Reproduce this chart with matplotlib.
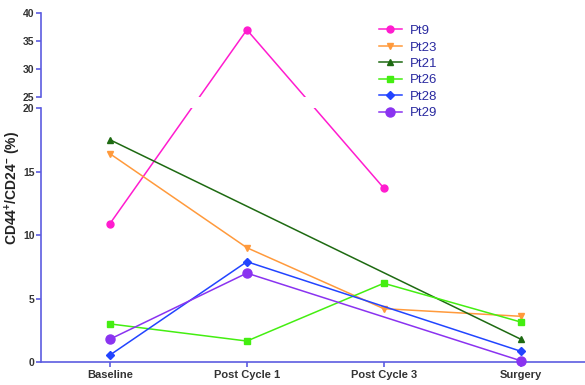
import numpy as np
import matplotlib
matplotlib.use("Agg")
import matplotlib.pyplot as plt

categories = ["Baseline", "Post Cycle 1", "Post Cycle 3", "Surgery"]
patients = ["Pt9", "Pt23", "Pt21", "Pt26", "Pt28", "Pt29"]
pt9 = [10.9, 37.0, 13.7, np.nan]
pt23 = [16.4, 9.0, 4.2, 3.6]
pt21 = [17.5, np.nan, np.nan, 1.8]
pt26 = [3.0, 1.65, 6.2, 3.15]
pt28 = [0.55, 7.9, np.nan, 0.85]
pt29 = [1.8, 7.0, np.nan, 0.1]
yticks = [0, 5, 10, 15, 20, 25, 30, 35, 40]

series = [pt9, pt23, pt21, pt26, pt28, pt29]
colors = ["#ff1ccf", "#ff9a3c", "#1e6a12", "#44ee11", "#2244ff", "#8a33f0"]
markers = ["o", "v", "^", "s", "D", "o"]
msizes = [5, 5, 5, 5, 4.5, 6.5]

plt.rcParams["mathtext.fontset"] = "custom"
plt.rcParams["mathtext.rm"] = "Liberation Sans:bold"
plt.rcParams["mathtext.bf"] = "Liberation Sans:bold"

# broken axis: 0-20 normal, 25-40 compressed, small gap between
gap = 0.87
r = 0.441
src = [-1000, 20, 25, 1000]
dst = [-1000, 20, 20 + gap, 20 + gap + 975 * r]


def fwd(y):
    return np.interp(y, src, dst)


def inv(y):
    return np.interp(y, dst, src)


axis_col = "#5c5ce0"
text_col = "#333333"

fig = plt.figure(figsize=(5.85, 3.85), dpi=100)
ax = fig.add_axes([41 / 585, 1 - 362 / 385, 1 - 41 / 585, 349 / 385])
ax.set_yscale("function", functions=(fwd, inv))

x = np.arange(len(categories))
for name, vals, c, m, ms in zip(patients, series, colors, markers, msizes):
    v = np.array(vals, dtype=float)
    ok = ~np.isnan(v)
    ax.plot(x[ok], v[ok], color=c, marker=m, markersize=ms, linewidth=1.1,
            label=name, clip_on=False, zorder=3)

ax.axhspan(20, 25, color="white", zorder=4, lw=0)

ax.set_xlim(-0.504, 3.47)
ax.set_ylim(0, 40)
ax.set_xticks(x)
ax.set_xticklabels(categories)
ax.set_yticks(yticks)

for s in ["top", "right", "left"]:
    ax.spines[s].set_visible(False)
ax.spines["bottom"].set_color(axis_col)
ax.spines["bottom"].set_linewidth(1.2)

yt = ax.get_yaxis_transform()
ax.plot([0, 0], [0, 20], color=axis_col, lw=1.2, transform=yt, clip_on=False, zorder=6)
ax.plot([0, 0], [25, 40], color=axis_col, lw=1.2, transform=yt, clip_on=False, zorder=6)

ax.tick_params(axis="both", colors=axis_col, width=1.2, length=3.6,
               labelcolor=text_col, pad=1)
ax.tick_params(axis="y", labelsize=7.5)
ax.tick_params(axis="x", pad=2.5, labelsize=8)
for lab in ax.get_xticklabels() + ax.get_yticklabels():
    lab.set_fontweight("bold")
    lab.set_family("Liberation Sans")

fig.text(13 / 585, 1 - 188 / 385, "CD44$^{+}$/CD24$^{-}$ (%)", rotation=90,
         ha="center", va="center", fontsize=10, fontweight="bold",
         color="#222222", family="Liberation Sans")

leg = ax.legend(loc="upper left", bbox_to_anchor=(0.6, 1.0), frameon=False,
                handlelength=1.7, labelspacing=0.32, handletextpad=0.6,
                prop={"family": "Liberation Sans", "size": 9.5})
for t in leg.get_texts():
    t.set_color("#2a2aa0")
leg.set_zorder(10)

fig.savefig("out.png", dpi=100)
